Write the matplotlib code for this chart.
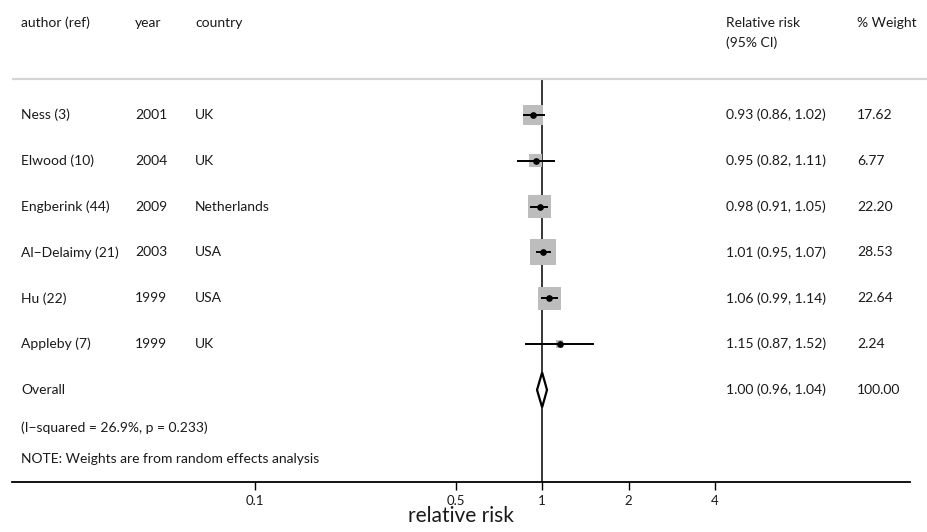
import matplotlib
matplotlib.use('Agg')
import matplotlib.pyplot as plt
from matplotlib.transforms import blended_transform_factory
from matplotlib.patches import Polygon

plt.rcParams['font.family'] = ['Lato', 'DejaVu Sans']

# study data
authors = ['Ness (3)', 'Elwood (10)', 'Engberink (44)', 'Al\u2212Delaimy (21)', 'Hu (22)', 'Appleby (7)']
years = ['2001', '2004', '2009', '2003', '1999', '1999']
countries = ['UK', 'UK', 'Netherlands', 'USA', 'USA', 'UK']
rr = [0.93, 0.95, 0.98, 1.01, 1.06, 1.15]
lo = [0.86, 0.82, 0.91, 0.95, 0.99, 0.87]
hi = [1.02, 1.11, 1.05, 1.07, 1.14, 1.52]
weights = [17.62, 6.77, 22.20, 28.53, 22.64, 2.24]

overall_rr, overall_lo, overall_hi = 1.00, 0.96, 1.04
overall_weight = 100.00
het_text = '(I\u2212squared = 26.9%, p = 0.233)'
note_text = 'NOTE: Weights are from random effects analysis'
xticks = [0.1, 0.5, 1, 2, 4]
xticklabels = ['0.1', '0.5', '1', '2', '4']

fig = plt.figure(figsize=(9.27, 5.32), dpi=100)
ax = fig.add_axes([12 / 927, (532 - 482) / 532, (910 - 12) / 927, 482 / 532])
ax.set_xscale('log')
ax.set_xlim(0.01428, 19.08)
ax.set_ylim(8.01, -2.509)

for s in ['top', 'right', 'left']:
    ax.spines[s].set_visible(False)
ax.spines['bottom'].set_linewidth(1.3)
ax.set_yticks([])
ax.set_xticks(xticks)
ax.set_xticklabels(xticklabels, fontsize=9.5, color='#1a1a1a')
ax.minorticks_off()
ax.tick_params(axis='x', length=5.5, width=1, pad=4)
ax.set_xlabel('relative risk', fontsize=15, labelpad=-1, color='#1a1a1a')

rows = list(range(len(authors)))
overall_row = len(authors)

# header separator and null line
tr = blended_transform_factory(fig.transFigure, ax.transData)
ax.hlines(-0.786, 12 / 927, 1.0, transform=tr, color='#d4d4d4', lw=1.6, clip_on=False)
ax.vlines(1, -0.786, 8.01, color='black', lw=1.1, zorder=1)

# boxes, CIs, points
ax.scatter(rr, rows, marker='s', s=[12.3 * w for w in weights], color='#bdbdbd', zorder=2, linewidths=0)
ax.hlines(rows, lo, hi, color='black', lw=1.4, zorder=3)
ax.plot(rr, rows, 'o', color='black', ms=3.8, zorder=4)

h = 0.38
diamond = Polygon([(overall_lo, overall_row), (overall_rr, overall_row - h),
                   (overall_hi, overall_row), (overall_rr, overall_row + h)],
                  closed=True, facecolor='white', edgecolor='black', lw=1.6, zorder=4)
ax.add_patch(diamond)

# text columns
fs = 10
tc = '#1a1a1a'
cols = {'author': 21 / 927, 'year': 135 / 927, 'country': 195 / 927, 'rr': 726 / 927, 'w': 857 / 927}


def put(col, y, s):
    ax.text(cols[col], y, s, transform=tr, fontsize=fs, va='center', color=tc)


put('author', -2.007, 'author (ref)')
put('year', -2.007, 'year')
put('country', -2.007, 'country')
put('rr', -2.007, 'Relative risk')
put('rr', -1.571, '(95% CI)')
put('w', -2.007, '% Weight')

for i in rows:
    put('author', i, authors[i])
    put('year', i, years[i])
    put('country', i, countries[i])
    put('rr', i, f'{rr[i]:.2f} ({lo[i]:.2f}, {hi[i]:.2f})')
    put('w', i, f'{weights[i]:.2f}')

put('author', overall_row, 'Overall')
put('rr', overall_row, f'{overall_rr:.2f} ({overall_lo:.2f}, {overall_hi:.2f})')
put('w', overall_row, f'{overall_weight:.2f}')
put('author', 6.83, het_text)
put('author', 7.506, note_text)

plt.savefig('out.png', dpi=100)
